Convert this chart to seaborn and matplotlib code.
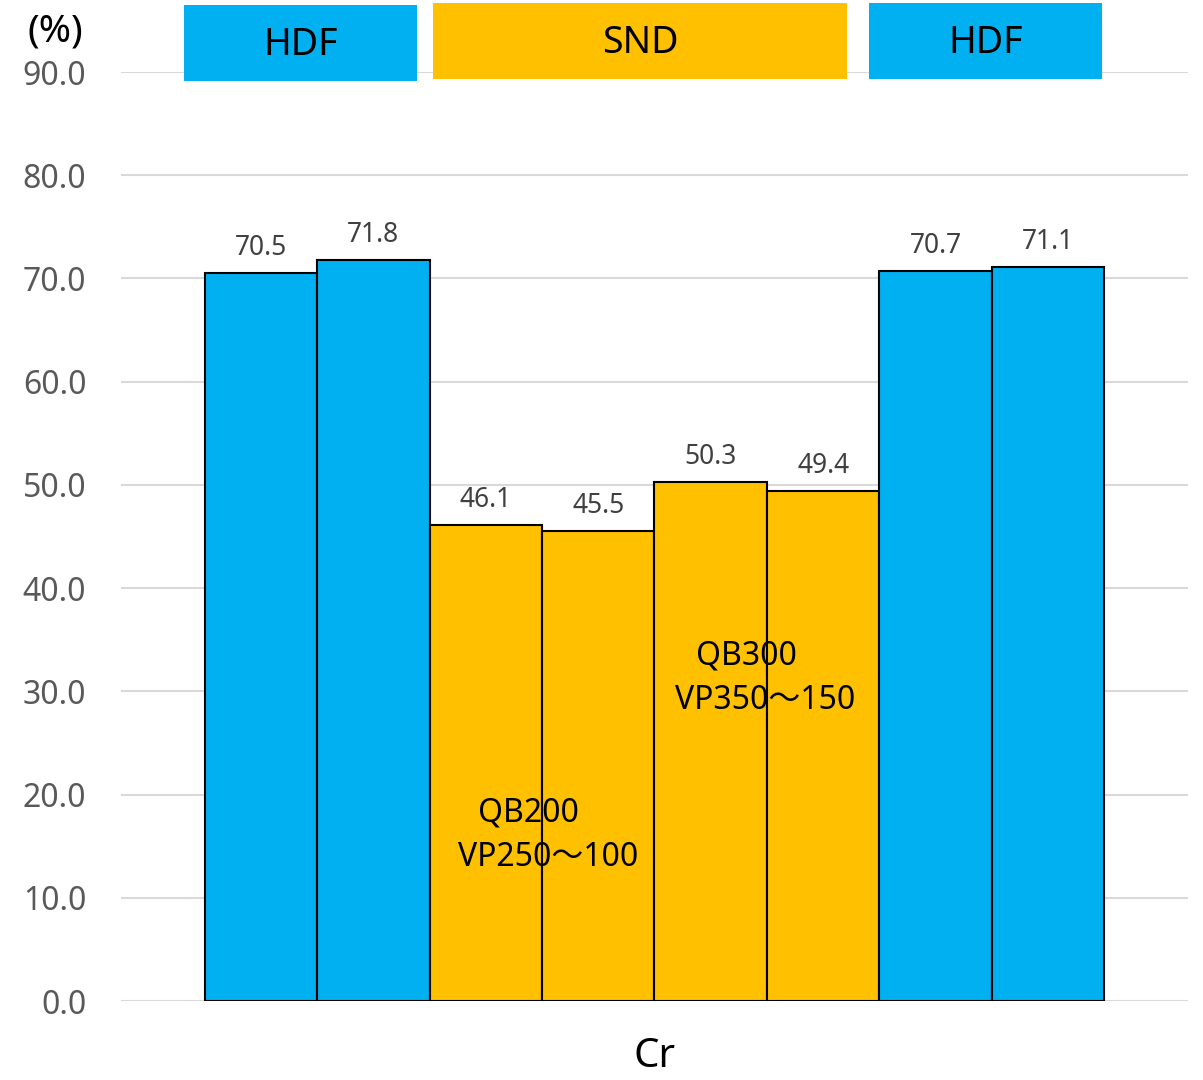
import matplotlib
matplotlib.use('Agg')
import matplotlib.pyplot as plt
import seaborn as sns
import pandas as pd
from matplotlib.patches import Rectangle

# データ
category = 'Cr'
series = ['HDF-1', 'HDF-2', 'SND-1', 'SND-2', 'SND-3', 'SND-4', 'HDF-3', 'HDF-4']
groups = ['HDF', 'HDF', 'SND', 'SND', 'SND', 'SND', 'HDF', 'HDF']
values = [70.5, 71.8, 46.1, 45.5, 50.3, 49.4, 70.7, 71.1]
header_labels = ['HDF', 'SND', 'HDF']
notes = ['QB200\nVP250～100', 'QB300\nVP350～150']
y_ticks = [0, 10, 20, 30, 40, 50, 60, 70, 80, 90]

group_colors = {'HDF': '#00B0F0', 'SND': '#FFC000'}
palette = {s: group_colors[g] for s, g in zip(series, groups)}

df = pd.DataFrame({'item': category, 'series': series, 'value': values})

sns.set_style('white')
plt.rcParams['font.family'] = ['Noto Sans', 'Noto Sans CJK JP', 'DejaVu Sans']

fig = plt.figure(figsize=(12.03, 10.8), dpi=100)
ax = fig.add_axes([0.1006, 0.0731, 0.8869, 0.8602])

sns.barplot(data=df, x='item', y='value', hue='series', hue_order=series,
            palette=palette, saturation=1, width=0.843, gap=0,
            edgecolor='black', linewidth=1.5, legend=False, ax=ax)

# 数値ラベル
for c in ax.containers:
    ax.bar_label(c, fmt='%.1f', padding=8, fontsize=19, color='#404040')

ax.set_ylim(0, 90)
ax.set_xlim(-0.5, 0.5)
ax.set_yticks(y_ticks)
ax.set_yticklabels([f'{v:.1f}' for v in y_ticks])
ax.yaxis.grid(True, color='#D9D9D9', linewidth=1.5)
ax.set_axisbelow(True)
for s in ax.spines.values():
    s.set_visible(False)
ax.tick_params(axis='y', length=0, pad=25, labelsize=23, labelcolor='#595959')
ax.tick_params(axis='x', length=0, pad=26, labelsize=29, labelcolor='black')
ax.set_xlabel('')
ax.set_ylabel('')

# (%) 表示
fig.text(0.046, 0.971, '(%)', ha='center', va='center', fontsize=28, color='black')

# 上部のグループ見出し
boxes = [(0.153, 0.925, 0.1937, 0.0704),
         (0.360, 0.927, 0.344, 0.0704),
         (0.7224, 0.927, 0.1937, 0.0704)]
for (x0, y0, w, h), lab in zip(boxes, header_labels):
    fig.add_artist(Rectangle((x0, y0), w, h, transform=fig.transFigure,
                             facecolor=group_colors[lab], edgecolor='none'))
    fig.text(x0 + w / 2, y0 + h / 2 - 0.002, lab, ha='center', va='center',
             fontsize=27, color='black')

# 注記
note_pos = [[(-0.1186, 18.2), (-0.0998, 13.9)],
            [(0.0858, 33.4), (0.1036, 29.1)]]
for note, pos in zip(notes, note_pos):
    for line, (x, y) in zip(note.split('\n'), pos):
        ax.text(x, y, line, ha='center', va='center', fontsize=23, color='black')

fig.savefig('out.png', dpi=100)
